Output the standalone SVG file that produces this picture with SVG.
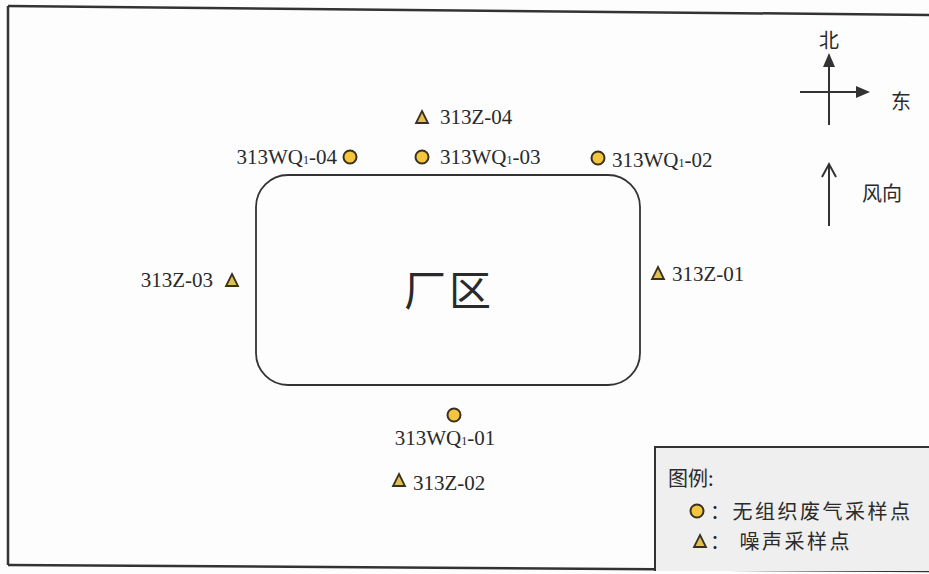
<svg xmlns="http://www.w3.org/2000/svg" width="929" height="574" viewBox="0 0 929 574">
<style>
.lbl{font-family:"Liberation Serif","Times New Roman",serif;font-size:21px;fill:#2a2a2a}
.sub{font-size:12px}
.cjk{font-family:"Noto Sans CJK SC","Noto Sans CJK JP",sans-serif;fill:#2a2a2a}
.pt{fill:#f4c63d;stroke:#3a3020;stroke-width:2}
.tri{fill:#e0c050;stroke:#3a3020;stroke-width:1.8;stroke-linejoin:miter}
.ln{stroke:#333;fill:none}
</style>
<defs>
<marker id="solid" viewBox="0 0 14 12" refX="12" refY="6" markerWidth="14" markerHeight="12" orient="auto" markerUnits="userSpaceOnUse">
<path d="M0,0 L14,6 L0,12 z" fill="#333"/>
</marker>
</defs>
<rect width="929" height="574" fill="#fdfdfd"/>
<g id="frame">
<path d="M8,6 L929,15" class="ln" stroke-width="2.5"/>
<path d="M8,6 L8,565" class="ln" stroke-width="2.5"/>
<path d="M8,565 L929,571" class="ln" stroke-width="2.5"/>
</g>
<g id="plant">
<rect x="256" y="175" width="384" height="210" rx="32" ry="32" fill="none" stroke="#333" stroke-width="1.8"/>
<text x="449" y="306" text-anchor="middle" class="cjk" font-size="42" letter-spacing="3">厂区</text>
</g>
<g id="Z04"><path class="tri" d="M422,111 L428,123 L416,123 z"/><text x="440" y="124" class="lbl">313Z-04</text></g>
<g id="WQ04"><text x="337" y="164" text-anchor="end" class="lbl">313WQ<tspan class="sub">1</tspan>-04</text><circle class="pt" cx="350" cy="157" r="6.5"/></g>
<g id="WQ03"><circle class="pt" cx="422" cy="157" r="6.5"/><text x="440" y="164" class="lbl">313WQ<tspan class="sub">1</tspan>-03</text></g>
<g id="WQ02"><circle class="pt" cx="598" cy="158" r="6.5"/><text x="612" y="167" class="lbl">313WQ<tspan class="sub">1</tspan>-02</text></g>
<g id="Z01"><path class="tri" d="M658,267 L664,279 L652,279 z"/><text x="672" y="281" class="lbl">313Z-01</text></g>
<g id="Z03"><text x="213" y="287" text-anchor="end" class="lbl">313Z-03</text><path class="tri" d="M232,274 L238,286 L226,286 z"/></g>
<g id="WQ01"><circle class="pt" cx="454" cy="415" r="6.5"/><text x="445" y="445" text-anchor="middle" class="lbl">313WQ<tspan class="sub">1</tspan>-01</text></g>
<g id="Z02"><path class="tri" d="M399,474 L405,486 L393,486 z"/><text x="413" y="490" class="lbl">313Z-02</text></g>
<g id="compass">
<line x1="829" y1="125" x2="829" y2="55" class="ln" stroke-width="2" marker-end="url(#solid)"/>
<line x1="800" y1="92" x2="868" y2="92" class="ln" stroke-width="2" marker-end="url(#solid)"/>
<text x="829" y="48" text-anchor="middle" class="cjk" font-size="20">北</text>
<text x="901" y="109" text-anchor="middle" class="cjk" font-size="20">东</text>
</g>
<g id="wind">
<line x1="829" y1="226" x2="829" y2="164" class="ln" stroke-width="2"/>
<path d="M822,177 L829,164 L836,177" class="ln" stroke-width="2"/>
<text x="862" y="201" class="cjk" font-size="20">风向</text>
</g>
<g id="legend">
<rect x="655" y="447" width="274" height="124" fill="#efefef"/>
<path d="M655,571 L655,447 L929,447" fill="none" stroke="#333" stroke-width="2"/>
<text x="668" y="486" class="cjk" font-size="20">图例:</text>
<circle class="pt" cx="697" cy="511" r="6.5"/>
<text x="710" y="519" class="cjk" font-size="20" letter-spacing="2.5">：无组织废气采样点</text>
<path class="tri" d="M700,535 L706,547 L694,547 z"/>
<text x="710" y="549" class="cjk" font-size="20" letter-spacing="2.5">： 噪声采样点</text>
</g>
</svg>
